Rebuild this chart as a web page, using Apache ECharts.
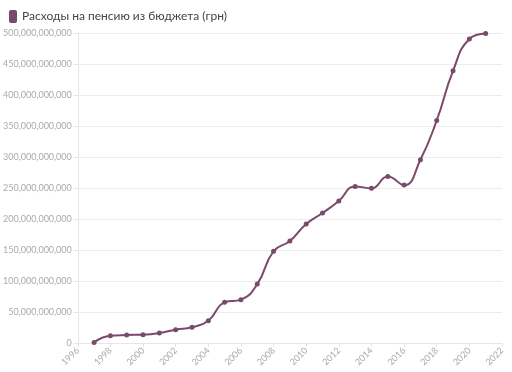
<!DOCTYPE html>
<html><head><meta charset="utf-8">
<script src="https://cdn.jsdelivr.net/npm/echarts@6/dist/echarts.min.js"></script>
<style>html,body{margin:0;padding:0;background:#fff}#c{width:512px;height:372px}</style>
</head><body><div id="c"></div>
<script>
const seriesName = "Расходы на пенсию из бюджета (грн)";
const years = [1997,1998,1999,2000,2001,2002,2003,2004,2005,2006,2007,2008,2009,2010,2011,2012,2013,2014,2015,2016,2017,2018,2019,2020,2021];
const valuesBn = [1,11.8,12.9,13.4,16,21.5,25.3,36,65.6,69.9,95,148,164.5,192,209.7,229,252.6,249.4,268.7,254.7,295.6,359,439,490.3,499];

const chart = echarts.init(document.getElementById('c'));
const color = '#7a4a6b';
chart.setOption({
  animation:false,
  textStyle:{fontFamily:'Lato'},
  legend:{left:4,top:5,itemWidth:8,itemHeight:13,itemGap:4,icon:'roundRect',
    textStyle:{fontSize:12,color:'#444',fontFamily:'Lato'},data:[seriesName]},
  grid:{left:66,right:10,top:33,bottom:29,containLabel:false},
  xAxis:{type:'value',min:1996,max:2022,interval:2,
    axisLine:{lineStyle:{color:'#e6e6e6'}},
    axisTick:{show:true,length:4,lineStyle:{color:'#e6e6e6'}},
    splitLine:{show:false},
    axisLabel:{rotate:45,color:'#aaa',fontSize:9,margin:6,formatter:v=>String(v)}},
  yAxis:{type:'value',min:0,max:500e9,interval:50e9,
    axisLine:{show:true,lineStyle:{color:'#e6e6e6'}},
    axisTick:{show:true,length:4,lineStyle:{color:'#e6e6e6'}},
    splitLine:{lineStyle:{color:'#ececec'}},
    axisLabel:{color:'#aaa',fontSize:9,margin:6,formatter:v=>v.toLocaleString('en-US')}},
  series:[{name:seriesName,type:'line',smooth:true,
    data:years.map((y,i)=>[y,valuesBn[i]*1e9]),
    symbol:'circle',symbolSize:5,showSymbol:true,
    itemStyle:{color:color},lineStyle:{color:color,width:2}}]
});
</script></body></html>
